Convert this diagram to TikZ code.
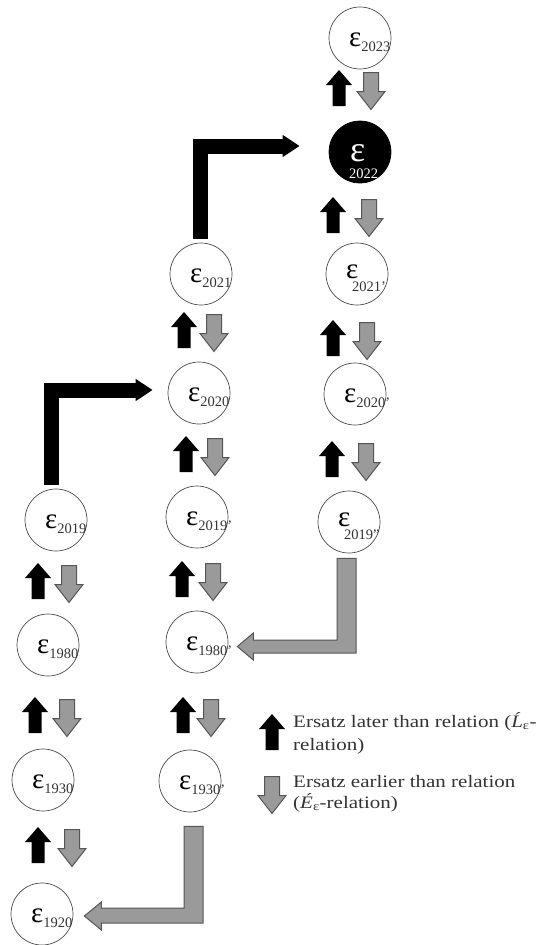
\documentclass[tikz,border=0pt]{standalone}
\usepackage{fontspec}
\setmainfont{Liberation Serif}
\newfontfamily\legfont[FakeStretch=1.2]{Liberation Serif}
\usetikzlibrary{arrows.meta,calc}
\definecolor{arrgray}{HTML}{9A9A9A}
\definecolor{edgegray}{HTML}{555555}
\tikzset{
  circ/.style={circle,draw=black!70,line width=0.7pt,minimum size=62pt,inner sep=0pt},
  blackcirc/.style={circ,fill=black,draw=black},
  epsl/.style={anchor=base west,inner sep=0pt,font=\fontsize{29}{29}\selectfont},
  subl/.style={anchor=base west,inner sep=0pt,font=\fontsize{14.5}{14.5}\selectfont,text=black!80},
  legl/.style={anchor=base west,inner sep=0pt,font=\legfont\fontsize{17.5}{20}\selectfont,text=black!80},
  blackbent/.style={draw=black,line width=15pt,line join=miter,-{Triangle[width=21pt,length=17pt]}},
  grayblock/.style={fill=arrgray,draw=edgegray,line width=1pt,line join=miter},
  upblk/.pic={\fill[black] (-6.5,18) -- (6.5,18) -- (6.5,-3) -- (13,-3) -- (0,-18) -- (-13,-3) -- (-6.5,-3) -- cycle;},
  downgr/.pic={\filldraw[grayblock] (-7.5,-18.5) -- (7.5,-18.5) -- (7.5,0.5) -- (14,0.5) -- (0,18.5) -- (-14,0.5) -- (-7.5,0.5) -- cycle;},
}
\newcommand\epsin[3]{\node[epsl] (#1) at ([xshift=-11pt,yshift=-8pt]#2.center) {ε\raisebox{-5pt}{\fontsize{14.5}{14.5}\selectfont\color{black!80}#3}};}
\newcommand\epsbelow[4]{\node[epsl] (#1) at ([xshift=-11pt,yshift=-4pt]#3.center) {ε};
  \node[subl] (#2) at ([xshift=-5pt,yshift=-17pt]#3.center) {#4};}
\begin{document}
\begin{tikzpicture}[x=1pt,y=-1pt]
\useasboundingbox (0,0) rectangle (547,945);
% circles
\node[circ] (c2023) at (360,38) {};
\node[blackcirc] (c2022) at (360,152) {};
\node[circ] (c2021p) at (357,274) {};
\node[circ] (c2020pp) at (355,394) {};
\node[circ] (c2019pp) at (349,522) {};
\node[circ] (c2021) at (201,274) {};
\node[circ] (c2020) at (199,393) {};
\node[circ] (c2019p) at (197,517) {};
\node[circ] (c1980p) at (197,642) {};
\node[circ] (c1930p) at (190,781) {};
\node[circ] (c2019) at (56,520) {};
\node[circ] (c1980) at (48,645) {};
\node[circ] (c1930) at (43,780) {};
\node[circ] (c1920) at (42,914) {};
% labels
\epsin{l2023}{c2023}{2023}
\node[epsl,text=white,font=\fontsize{36}{36}\selectfont] (l2022) at ([xshift=-10pt,yshift=-9pt]c2022.center) {ε};
\node[subl,text=white] (s2022) at ([xshift=-11pt,yshift=-26pt]c2022.center) {2022};
\epsbelow{l2021p}{s2021p}{c2021p}{2021’}
\epsin{l2020pp}{c2020pp}{2020’}
\epsbelow{l2019pp}{s2019pp}{c2019pp}{2019”}
\epsin{l2021}{c2021}{2021}
\epsin{l2020}{c2020}{2020}
\epsin{l2019p}{c2019p}{2019’}
\epsin{l1980p}{c1980p}{1980’}
\epsin{l1930p}{c1930p}{1930’}
\epsin{l2019}{c2019}{2019}
\epsin{l1980}{c1980}{1980}
\epsin{l1930}{c1930}{1930}
\epsin{l1920}{c1920}{1920}
% relation arrow pairs
\foreach \ux/\dx/\yy in {339/371/88, 333/369/215, 333/367/338, 332/366/459,
  184/214/330, 186/215/454, 182/213/579, 183/211/715,
  38/69/581, 35/67/715, 38/72/845}{
  \pic at (\ux,\yy) {upblk};
  \pic at (\dx,\yy+3) {downgr};
}
% black bent arrows
\draw[blackbent] ([xshift=-5pt,yshift=4pt]c2019.north) |- ([xshift=-15pt,yshift=3pt]c2020.west);
\draw[blackbent] ([xshift=-1pt,yshift=4pt]c2021.north) |- ([xshift=-29pt,yshift=6pt]c2022.west);
% gray bent arrows
\filldraw[grayblock] let \p1=(c2019pp.south), \p2=(c1980p.east) in
  (\x1-12pt,\y1-5pt) -- (\x1+7pt,\y1-5pt) -- (\x1+7pt,\y2-11pt) -- (\x2+25pt,\y2-11pt)
  -- (\x2+25pt,\y2-18pt) -- (\x2+9pt,\y2-4.5pt) -- (\x2+25pt,\y2+9pt) -- (\x2+25pt,\y2+2pt)
  -- (\x1-12pt,\y2+2pt) -- cycle;
\filldraw[grayblock] let \p1=(c1930p.south), \p2=(c1920.east) in
  (\x1-6pt,\y1-14pt) -- (\x1+13pt,\y1-14pt) -- (\x1+13pt,\y2-9pt) -- (\x2+28pt,\y2-9pt)
  -- (\x2+28pt,\y2-16pt) -- (\x2+11pt,\y2-2pt) -- (\x2+28pt,\y2+12pt) -- (\x2+28pt,\y2+6pt)
  -- (\x1-6pt,\y2+6pt) -- cycle;
% legend
\pic at (272,732) {upblk};
\pic at (272,795) {downgr};
\node[legl] (lg1) at (293,727) {Ersatz later than relation (\textit{Ĺ}\textsubscript{ε}-};
\node[legl] (lg2) at (293,750) {relation)};
\node[legl] (lg3) at (293,787) {Ersatz earlier than relation};
\node[legl] (lg4) at (293,808) {(\textit{É}\textsubscript{ε}-relation)};
\end{tikzpicture}
\end{document}
